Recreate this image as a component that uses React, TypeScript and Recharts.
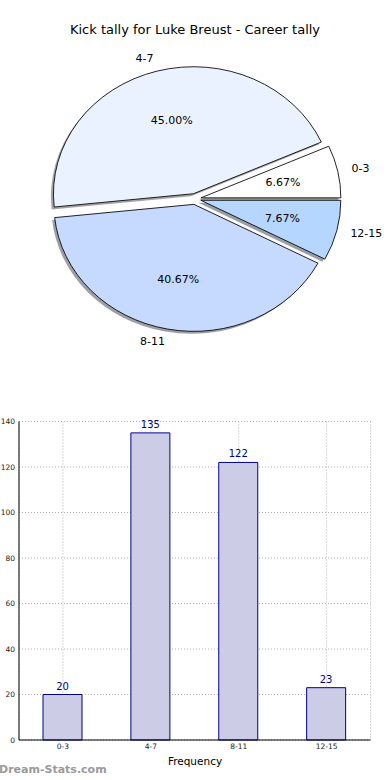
import React from 'react';
import { PieChart, Pie, Cell, BarChart, Bar, XAxis, YAxis, CartesianGrid, LabelList } from 'recharts';

const categories = ['0-3', '4-7', '8-11', '12-15'];
const frequencies = [20, 135, 122, 23];
const sliceColors = ['#ffffff', '#ebf2ff', '#c6d9ff', '#b4d6ff'];
const yTicks = [0, 20, 40, 60, 80, 100, 120, 140];

const pieData = categories.map((c, i) => ({ name: c, value: frequencies[i] }));
const total = frequencies.reduce((a, b) => a + b, 0);

const FONT = '"DejaVu Sans", sans-serif';
const R = 140; // horizontal radius
const S = 127 / 140; // vertical squash (non-equal aspect)
const CX = 195;
const CY = 199 / S;
const EXPLODE = 6;
const RAD = Math.PI / 180;

const midAngles: number[] = (() => {
  let acc = 0;
  return frequencies.map((v) => {
    const a = (v / total) * 360;
    const m = acc + a / 2;
    acc += a;
    return m;
  });
})();

const shade = (hex: string) => {
  const n = parseInt(hex.slice(1), 16);
  const r = Math.round(((n >> 16) & 255) * 0.3);
  const g = Math.round(((n >> 8) & 255) * 0.3);
  const b = Math.round((n & 255) * 0.3);
  return `rgb(${r},${g},${b})`;
};

const makeLabel = (target: number) => (props: any) => {
  if (props.index !== target) return null;
  const { cx, cy, midAngle, percent, name } = props;
  const c = Math.cos(midAngle * RAD);
  const s = Math.sin(midAngle * RAD);
  const lx = cx + 1.1 * R * c;
  const ly = cy - 1.1 * R * s;
  const px = cx + 0.6 * R * c;
  const py = cy - 0.6 * R * s;
  const t = (x: number, y: number) => `translate(${x},${y}) scale(1,${1 / S}) translate(${-x},${-y})`;
  return (
    <g>
      <text x={lx} y={ly} transform={t(lx, ly)} textAnchor={c >= 0 ? 'start' : 'end'} dominantBaseline="central"
        fontFamily={FONT} fontSize={11} fill="#000">{name}</text>
      <text x={px} y={py} transform={t(px, py)} textAnchor="middle" dominantBaseline="central"
        fontFamily={FONT} fontSize={11} fill="#000">{`${(percent * 100).toFixed(2)}%`}</text>
    </g>
  );
};

const barData = categories.map((c, i) => ({ name: c, value: frequencies[i] }));

export default function App() {
  return (
    <div style={{ position: 'absolute', left: 0, top: 0, width: 390, height: 780, background: '#fff', overflow: 'hidden' }}>
      <div style={{ position: 'absolute', left: 0, top: 0, width: 390, height: 420, transform: `scaleY(${S})`, transformOrigin: '0 0' }}>
        <PieChart width={390} height={420} margin={{ top: 0, right: 0, bottom: 0, left: 0 }}>
          {categories.map((c, i) => (
            <Pie key={'sh' + c} data={pieData} dataKey="value" nameKey="name" isAnimationActive={false}
              cx={CX + EXPLODE * Math.cos(midAngles[i] * RAD) - 2.5}
              cy={CY - EXPLODE * Math.sin(midAngles[i] * RAD) + 2.5 / S}
              outerRadius={R} innerRadius={0} startAngle={0} endAngle={360} labelLine={false}>
              {pieData.map((d, j) => (
                <Cell key={d.name} fill={j === i ? shade(sliceColors[i]) : 'none'} fillOpacity={0.5}
                  stroke="none" />
              ))}
            </Pie>
          ))}
          {categories.map((c, i) => (
            <Pie key={'sl' + c} data={pieData} dataKey="value" nameKey="name" isAnimationActive={false}
              cx={CX + EXPLODE * Math.cos(midAngles[i] * RAD)}
              cy={CY - EXPLODE * Math.sin(midAngles[i] * RAD)}
              outerRadius={R} innerRadius={0} startAngle={0} endAngle={360}
              labelLine={false} label={makeLabel(i)}>
              {pieData.map((d, j) => (
                <Cell key={d.name} fill={j === i ? sliceColors[i] : 'none'}
                  stroke={j === i ? '#000' : 'none'} strokeWidth={0.9} />
              ))}
            </Pie>
          ))}
        </PieChart>
      </div>
      <div style={{ position: 'absolute', left: 0, top: 21, width: 390, textAlign: 'center', fontFamily: FONT, fontSize: 13, lineHeight: '18px', color: '#000' }}>
        Kick tally for Luke Breust - Career tally
      </div>

      <div style={{ position: 'absolute', left: 0, top: 400 }}>
        <BarChart width={390} height={380} data={barData} margin={{ top: 21.5, right: 19.5, bottom: 20, left: 0 }} barCategoryGap={0}>
          <CartesianGrid stroke="#b0b0b0" strokeDasharray="1 2" />
          <XAxis dataKey="name" height={20} tickLine={false} tickSize={0} tickMargin={4}
            axisLine={{ stroke: '#000' }} tick={{ fontFamily: FONT, fontSize: 7.5, fill: '#222' }} />
          <XAxis xAxisId="t" dataKey="name" orientation="top" height={0} tick={false} tickLine={false}
            axisLine={{ stroke: '#000' }} />
          <YAxis domain={[0, 140]} ticks={yTicks} width={19} tickLine={false} tickSize={0} tickMargin={4}
            axisLine={{ stroke: '#000' }} tick={{ fontFamily: FONT, fontSize: 7.5, fill: '#222' }} />
          <YAxis yAxisId="r" orientation="right" domain={[0, 140]} width={0} tick={false} tickLine={false}
            axisLine={{ stroke: '#000' }} />
          <Bar dataKey="value" barSize={39} fill="#ccccE6" stroke="#00008b" strokeWidth={1} isAnimationActive={false}>
            <LabelList dataKey="value" position="top" offset={5} fill="#00008b" fontFamily={FONT} fontSize={10} />
          </Bar>
        </BarChart>
      </div>
      <div style={{ position: 'absolute', left: 0, top: 754, width: 390, textAlign: 'center', fontFamily: FONT, fontSize: 10.5, lineHeight: '14px', color: '#000' }}>
        Frequency
      </div>
      <div style={{ position: 'absolute', left: -1, top: 762, fontFamily: FONT, fontWeight: 'bold', fontSize: 11, lineHeight: '16px', color: '#9a9a9a' }}>
        Dream-Stats.com
      </div>
    </div>
  );
}
